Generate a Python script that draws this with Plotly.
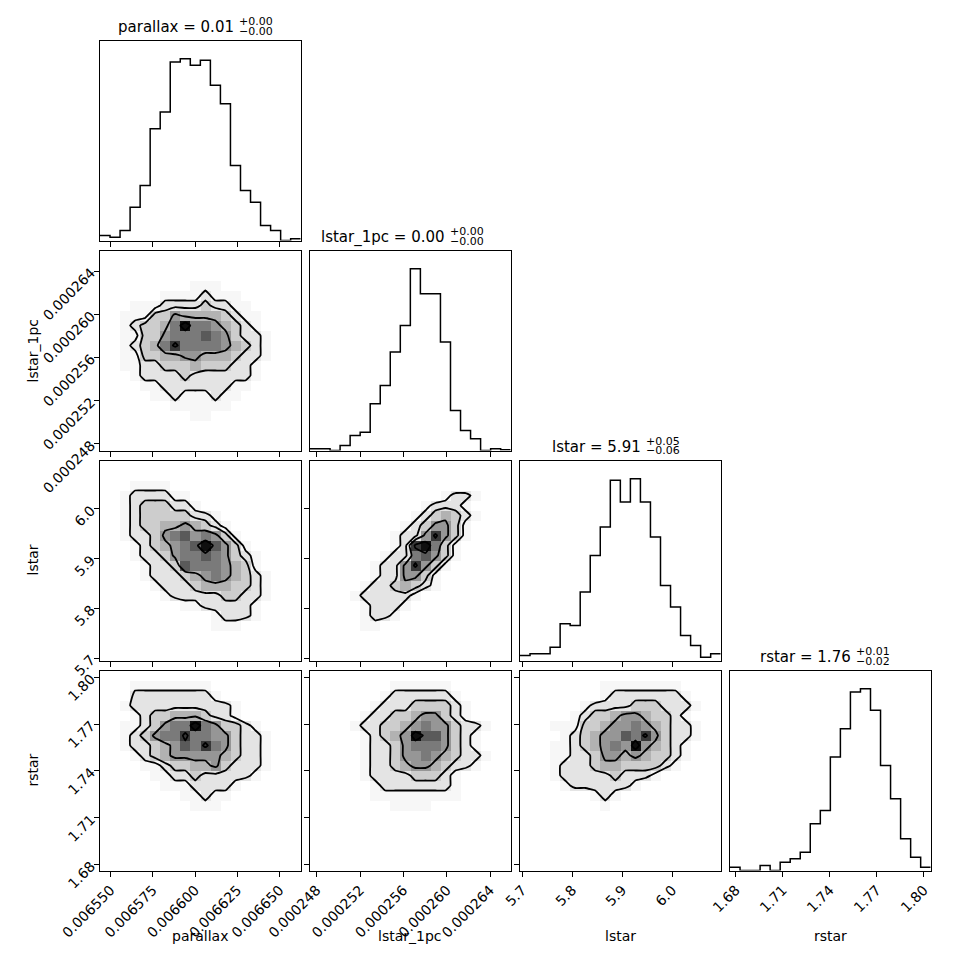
import plotly.graph_objects as go

# parametres et axes
labels = ["parallax", "lstar_1pc", "lstar", "rstar"]
parallax_range = [0.0065437, 0.0066624]
lstar_1pc_range = [0.00024738, 0.0002659]
lstar_range = [5.6954, 6.0968]
rstar_range = [1.6762, 1.8043]

parallax_ticks = [0.006550, 0.006575, 0.006600, 0.006625, 0.006650]
parallax_ticktext = ["0.006550", "0.006575", "0.006600", "0.006625", "0.006650"]
lstar_1pc_ticks = [0.000248, 0.000252, 0.000256, 0.000260, 0.000264]
lstar_1pc_ticktext = ["0.000248", "0.000252", "0.000256", "0.000260", "0.000264"]
lstar_ticks = [5.7, 5.8, 5.9, 6.0]
lstar_ticktext = ["5.7", "5.8", "5.9", "6.0"]
rstar_ticks = [1.68, 1.71, 1.74, 1.77, 1.80]
rstar_ticktext = ["1.68", "1.71", "1.74", "1.77", "1.80"]

# titres des histogrammes
title_med = ["0.01", "0.00", "5.91", "1.76"]
title_plus = ["+0.00", "+0.00", "+0.05", "+0.01"]
title_minus = ["\u22120.00", "\u22120.00", "\u22120.06", "\u22120.02"]

# histogrammes 1D (20 bins)
hist_parallax = [3, 2, 6, 20, 33, 67, 77, 107, 109, 105, 108, 93, 82, 45, 30, 23, 9, 6, 0, 1]
hist_lstar_1pc = [1, 1, 0, 3, 9, 11, 28, 39, 59, 75, 109, 94, 94, 65, 24, 12, 7, 0, 1, 0.4]
hist_lstar = [3, 4, 4, 8, 22, 21, 41, 63, 80, 108, 95, 109, 95, 74, 45, 32, 15, 9, 2, 4]
hist_rstar = [2, 0, 0, 3, 0, 5, 7, 11, 28, 36, 68, 85, 107, 109, 96, 63, 43, 19, 8, 2]

# histogrammes 2D, niveau de gris 0-9, ligne du haut en premier
Z = "00000000000000000000"
grid_lstar_1pc_parallax = [
    Z, Z, Z,
    "00000000011100000000",
    "00000011112111000000",
    "00011122223221100000",
    "00111335444432110000",
    "00123346966543210000",
    "00113356667653221000",
    "00123468666654321000",
    "00113344554443221000",
    "00112233343332210000",
    "00012222322222210000",
    "00001122222221100000",
    "00000112111211000000",
    "00000001111110000000",
    "00000000011000000000",
    Z, Z, Z,
]
grid_lstar_parallax = [
    Z, Z,
    "00011110000000000000",
    "00122221100000000000",
    "00123332210000000000",
    "00123333322100000000",
    "00123344543210000000",
    "00122356756531000000",
    "00012345679753100000",
    "00012235667653210000",
    "00001223766654310000",
    "00001222345654321000",
    "00000122234443321000",
    "00000012222233221000",
    "00000000112222210000",
    "00000000000122210000",
    "00000000000111000000",
    Z, Z, Z,
]
grid_lstar_lstar_1pc = [
    Z, Z, Z,
    "00000000000001221000",
    "00000000000122210000",
    "00000000001234321000",
    "00000000012355310000",
    "00000000122585310000",
    "00000000128963100000",
    "00000001226753100000",
    "00000012258531000000",
    "00000012255310000000",
    "00000122343210000000",
    "00001222221000000000",
    "00000122210000000000",
    "00000122100000000000",
    "00000110000000000000",
    Z, Z, Z,
]
grid_rstar_parallax = [
    Z,
    "00011111111000000000",
    "00022222222100000000",
    "00122222222221000000",
    "00012334443221000000",
    "00112356696533210000",
    "00123566866553221000",
    "00122345768653221000",
    "00012345555543221000",
    "00001123344532221000",
    "00000112232222210000",
    "00000011122221000000",
    "00000000112110000000",
    "00000000011100000000",
    Z, Z, Z, Z, Z, Z,
]
grid_rstar_lstar_1pc = [
    Z,
    "00000000111111000000",
    "00000001222222100000",
    "00000012223333210000",
    "00000122334553210000",
    "00001223345655322100",
    "00000123459775321000",
    "00000122356665321000",
    "00000122355654322100",
    "00000122345543221000",
    "00000122223332100000",
    "00000012222222100000",
    "00000011111111100000",
    "00000000111100000000",
    Z, Z, Z, Z, Z, Z,
]
grid_rstar_lstar = [
    Z,
    "00000000111111110000",
    "00000000122222221000",
    "00000012222333222100",
    "00000123345543321000",
    "00011133455654322100",
    "00001234557685322100",
    "00011234565954321000",
    "00011223554543321000",
    "00012223443333210000",
    "00012222232221000000",
    "00001222222100000000",
    "00000001210000000000",
    "00000000100000000000",
    Z, Z, Z, Z, Z, Z,
]

ranges = [parallax_range, lstar_1pc_range, lstar_range, rstar_range]
ticks = [parallax_ticks, lstar_1pc_ticks, lstar_ticks, rstar_ticks]
ticktexts = [parallax_ticktext, lstar_1pc_ticktext, lstar_ticktext, rstar_ticktext]
hists = [hist_parallax, hist_lstar_1pc, hist_lstar, hist_rstar]
grids = {
    (1, 0): grid_lstar_1pc_parallax,
    (2, 0): grid_lstar_parallax,
    (2, 1): grid_lstar_lstar_1pc,
    (3, 0): grid_rstar_parallax,
    (3, 1): grid_rstar_lstar_1pc,
    (3, 2): grid_rstar_lstar,
}

W, H = 970, 970
OFF = 8  # marge du body html
NB = 20
FONT = "DejaVu Sans"
levels = [1.5, 2.5, 4.5, 7.5]
grays = [255, 247, 228, 205, 178, 150, 122, 90, 55, 15]
gray_scale = [[i / 9, f"rgb({g},{g},{g})"] for i, g in enumerate(grays)]
title_offset = [36, 37, 23, 23]


def fx(p):
    return (p - OFF) / W


def fy(p):
    return 1 - (p - OFF) / H


def edges(rg):
    return [rg[0] + k * (rg[1] - rg[0]) / NB for k in range(NB + 1)]


def centres(rg):
    e = edges(rg)
    return [(e[k] + e[k + 1]) / 2 for k in range(NB)]


fig = go.Figure()
layout = {}
annotations = []
n = 0
for r in range(4):
    for c in range(r + 1):
        n += 1
        xs = "x" if n == 1 else f"x{n}"
        ys = "y" if n == 1 else f"y{n}"
        xkey = "xaxis" if n == 1 else f"xaxis{n}"
        ykey = "yaxis" if n == 1 else f"yaxis{n}"
        x0 = 100 + 210 * c
        x1 = x0 + 200.7
        y0 = 40.5 + 210 * r
        y1 = y0 + 200

        common = dict(showline=True, mirror=True, linecolor="black", linewidth=1,
                      showgrid=False, zeroline=False, ticks="outside", ticklen=5,
                      tickcolor="black", automargin=False,
                      tickfont=dict(family=FONT, size=14, color="black"))
        layout[xkey] = dict(common, domain=[fx(x0), fx(x1)], range=ranges[c], anchor=ys,
                            tickvals=ticks[c], ticktext=ticktexts[c],
                            showticklabels=(r == 3), tickangle=-45)

        if r == c:
            h = hists[c]
            e = edges(ranges[c])
            fig.add_trace(go.Scatter(x=e, y=h + [h[-1]], mode="lines", line_shape="hv",
                                     line=dict(color="black", width=1.5),
                                     xaxis=xs, yaxis=ys, showlegend=False, hoverinfo="skip"))
            layout[ykey] = dict(common, domain=[fy(y1), fy(y0)], range=[0, 1.1 * max(h)],
                                anchor=xs, showticklabels=False, ticks="")
            cx = (x0 + x1) / 2 + title_offset[c]
            annotations.append(dict(x=fx(cx), y=fy(y0 - 13.5), xref="paper", yref="paper",
                                    text=f"{labels[c]} = {title_med[c]}", showarrow=False,
                                    xanchor="right", yanchor="middle",
                                    font=dict(family=FONT, size=15, color="black")))
            annotations.append(dict(x=fx(cx + 1), y=fy(y0 - 19), xref="paper", yref="paper",
                                    text=title_plus[c], showarrow=False,
                                    xanchor="left", yanchor="middle",
                                    font=dict(family=FONT, size=11, color="black")))
            annotations.append(dict(x=fx(cx + 1), y=fy(y0 - 9.5), xref="paper", yref="paper",
                                    text=title_minus[c], showarrow=False,
                                    xanchor="left", yanchor="middle",
                                    font=dict(family=FONT, size=11, color="black")))
        else:
            z = [[int(ch) for ch in row] for row in reversed(grids[(r, c)])]
            cxs = centres(ranges[c])
            cys = centres(ranges[r])
            fig.add_trace(go.Heatmap(z=z, x=cxs, y=cys, colorscale=gray_scale, zmin=0, zmax=9,
                                     showscale=False, xaxis=xs, yaxis=ys, hoverinfo="skip"))
            for L in levels:
                fig.add_trace(go.Contour(z=z, x=cxs, y=cys, autocontour=False,
                                         contours=dict(coloring="none", start=L, end=L + 0.5, size=1),
                                         line=dict(color="black", width=1.8, smoothing=0.3),
                                         showscale=False, xaxis=xs, yaxis=ys, hoverinfo="skip"))
            layout[ykey] = dict(common, domain=[fy(y1), fy(y0)], range=ranges[r],
                                anchor=xs, tickvals=ticks[r], ticktext=ticktexts[r],
                                showticklabels=(c == 0), tickangle=-45)

# etiquettes des axes
for i in range(4):
    xc = 100 + 210 * i + 100
    annotations.append(dict(x=fx(xc), y=fy(936), xref="paper", yref="paper", text=labels[i],
                            showarrow=False, xanchor="center", yanchor="middle",
                            font=dict(family=FONT, size=14, color="black")))
    if i > 0:
        yc = 40.5 + 210 * i + 100
        annotations.append(dict(x=fx(32), y=fy(yc), xref="paper", yref="paper", text=labels[i],
                                showarrow=False, textangle=-90, xanchor="center", yanchor="middle",
                                font=dict(family=FONT, size=14, color="black")))

fig.update_layout(width=W, height=H, margin=dict(l=0, r=0, t=0, b=0, autoexpand=False),
                  paper_bgcolor="white", plot_bgcolor="white", showlegend=False,
                  annotations=annotations, **layout)
fig.write_html("out.html")
